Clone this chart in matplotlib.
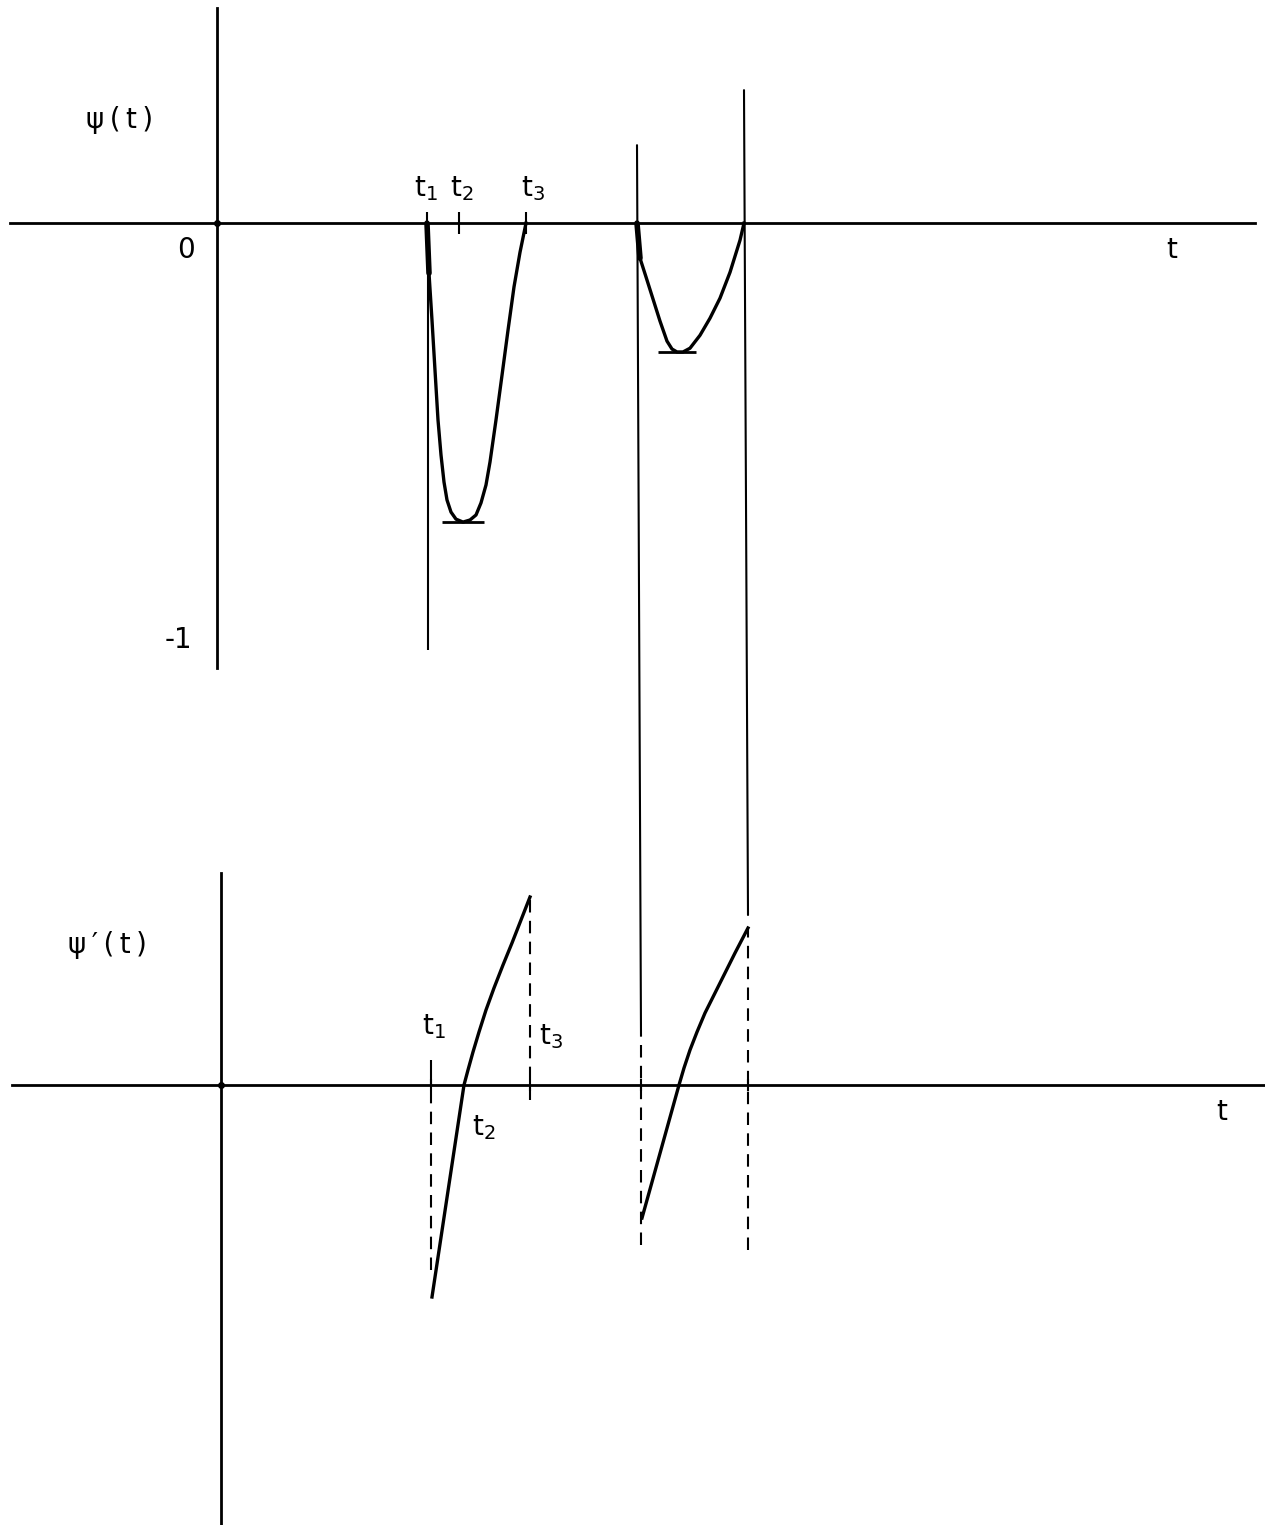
import matplotlib

matplotlib.use("Agg")
import matplotlib.pyplot as plt
from matplotlib.patches import ConnectionPatch


plt.rcParams["font.family"] = ["DejaVu Sans"]
plt.rcParams["mathtext.fontset"] = "dejavusans"

# event times on the t axis
t1, t2, t3 = 2.10, 2.42, 3.09
t4, t5 = 4.20, 5.27

# psi(t), first and second pulse
psi_a_t = [2.10, 2.12, 2.15, 2.18, 2.21, 2.24, 2.27, 2.30, 2.34, 2.39, 2.46, 2.53, 2.59, 2.64,
           2.69, 2.73, 2.79, 2.85, 2.91, 2.97, 3.03, 3.09]
psi_a = [0.0, -0.120, -0.233, -0.353, -0.472, -0.556, -0.621, -0.664, -0.693, -0.710, -0.717,
         -0.712, -0.700, -0.671, -0.628, -0.573, -0.472, -0.365, -0.257, -0.153, -0.070, 0.0]
psi_b_t = [4.20, 4.23, 4.29, 4.36, 4.43, 4.50, 4.55, 4.60, 4.66, 4.73, 4.83, 4.93, 5.03, 5.13,
           5.23, 5.27]
psi_b = [0.0, -0.084, -0.129, -0.182, -0.235, -0.283, -0.302, -0.309, -0.309, -0.300, -0.269,
         -0.228, -0.180, -0.118, -0.041, 0.0]

# psi'(t), first and second pulse
dpsi_a_t = [2.11, 2.43, 2.47, 2.52, 2.58, 2.65, 2.73, 2.82, 2.91, 3.00, 3.09]
dpsi_a = [-2.12, 0.0, 0.15, 0.33, 0.53, 0.75, 0.97, 1.20, 1.42, 1.65, 1.88]
dpsi_b_t = [4.21, 4.58, 4.63, 4.69, 4.76, 4.84, 4.93, 5.03, 5.14, 5.27]
dpsi_b = [-1.33, 0.0, 0.17, 0.35, 0.53, 0.72, 0.90, 1.10, 1.32, 1.57]

top_ticks = [t1, t2, t3]
top_tick_labels = [r"$\mathrm{t}_1$", r"$\mathrm{t}_2$", r"$\mathrm{t}_3$"]

W, H = 1265, 1525
AXIS_LW = 2.0
CURVE_LW = 2.4
THIN_LW = 1.5
DASH = (0, (6, 4))
FS = 20
THIN = "\u2009"


def setup_axes(ax, xlim, ylim):
    ax.set_xlim(*xlim)
    ax.set_ylim(*ylim)
    ax.patch.set_alpha(0)
    for side in ["right", "bottom"]:
        ax.spines[side].set_visible(False)
    ax.spines["top"].set_position(("data", 0))
    ax.spines["left"].set_position(("data", 0))
    ax.spines["top"].set_linewidth(AXIS_LW)
    ax.spines["left"].set_linewidth(AXIS_LW)
    ax.xaxis.tick_top()
    ax.set_yticks([])
    ax.plot([0], [0], "ko", ms=4, clip_on=False)


def draw_pulse(ax, ts, vs, heavy_start=False):
    ax.plot(ts, vs, color="k", lw=CURVE_LW, solid_joinstyle="round")
    if heavy_start:
        # the pen lands heavier on the first stroke
        ax.plot(ts[:2], vs[:2], color="k", lw=4, solid_capstyle="round")


def min_bar(ax, ts, vs, half_width):
    i = vs.index(min(vs))
    ax.hlines(vs[i], ts[i] - half_width, ts[i] + half_width, color="k", lw=AXIS_LW)


def draw_top(fig):
    ax = fig.add_axes([10 / W, 1 - 668 / H, 1245 / W, 660 / H])
    setup_axes(ax, (-2.07, 10.38), (-1.067, 0.516))
    ax.set_xticks(top_ticks)
    ax.set_xticklabels([])
    ax.tick_params(axis="x", direction="inout", length=16, width=THIN_LW)

    draw_pulse(ax, psi_a_t, psi_a, heavy_start=True)
    draw_pulse(ax, psi_b_t, psi_b, heavy_start=True)
    min_bar(ax, psi_a_t, psi_a, 0.21)
    min_bar(ax, psi_b_t, psi_b, 0.19)

    ax.vlines(t1 + 0.01, -1.024, 0, color="k", lw=THIN_LW)

    for t, label, dx in zip(top_ticks, top_tick_labels, [-1, 2, 5]):
        ax.annotate(label, (t, 0), xytext=(dx, 25), textcoords="offset points",
                    ha="center", va="center", fontsize=FS)

    ax.text(-0.97, 0.247, THIN.join("ψ(t)"), fontsize=FS, ha="center", va="center")
    ax.text(-0.31, -0.065, "0", fontsize=FS, ha="center", va="center")
    ax.text(-0.39, -1.0, "-1", fontsize=FS, ha="center", va="center")
    ax.text(9.55, -0.065, "t", fontsize=FS, ha="center", va="center")
    return ax


def draw_bottom(fig):
    ax = fig.add_axes([12 / W, 0, 1253 / W, 652 / H])
    setup_axes(ax, (-2.09, 10.44), (-4.40, 2.12))
    ax.set_xticks([t1, t3, t4, t5])
    ax.set_xticklabels([])
    ax.tick_params(axis="x", direction="inout", length=8, width=THIN_LW)

    draw_pulse(ax, dpsi_a_t, dpsi_a)
    draw_pulse(ax, dpsi_b_t, dpsi_b)

    # guide lines dropped from the pulse edges
    ax.vlines(t1, 0, 0.25, color="k", lw=THIN_LW)
    ax.vlines(t1, -1.85, 0, color="k", lw=THIN_LW, linestyles=DASH)
    ax.vlines(t3, -0.15, dpsi_a[-1], color="k", lw=THIN_LW, linestyles=DASH)
    ax.vlines(t4, -1.60, 0.5, color="k", lw=THIN_LW, linestyles=DASH)
    ax.vlines(t5, -1.65, dpsi_b[-1], color="k", lw=THIN_LW, linestyles=DASH)

    ax.annotate(r"$\mathrm{t}_1$", (t1, 0), xytext=(2, 42), textcoords="offset points",
                ha="center", va="center", fontsize=FS)
    ax.annotate(r"$\mathrm{t}_3$", (t3, 0), xytext=(15, 35), textcoords="offset points",
                ha="center", va="center", fontsize=FS)
    ax.annotate(r"$\mathrm{t}_2$", (t2, 0), xytext=(15, -31), textcoords="offset points",
                ha="center", va="center", fontsize=FS)

    ax.text(-1.14, 1.40, THIN.join("ψ′(t)"), fontsize=FS, ha="center", va="center")
    ax.text(10.01, -0.27, "t", fontsize=FS, ha="center", va="center")
    return ax


def connect(fig, top, bottom, t, y_top, y_bottom):
    line = ConnectionPatch(xyA=(t, y_top), coordsA=top.transData,
                           xyB=(t, y_bottom), coordsB=bottom.transData,
                           color="k", lw=THIN_LW)
    fig.add_artist(line)


def main():
    fig = plt.figure(figsize=(W / 100, H / 100), dpi=100)
    top = draw_top(fig)
    bottom = draw_bottom(fig)

    connect(fig, top, bottom, t4, 0.187, 0.5)
    connect(fig, top, bottom, t5, 0.319, 1.70)

    fig.savefig("out.png", dpi=100)


if __name__ == "__main__":
    main()
